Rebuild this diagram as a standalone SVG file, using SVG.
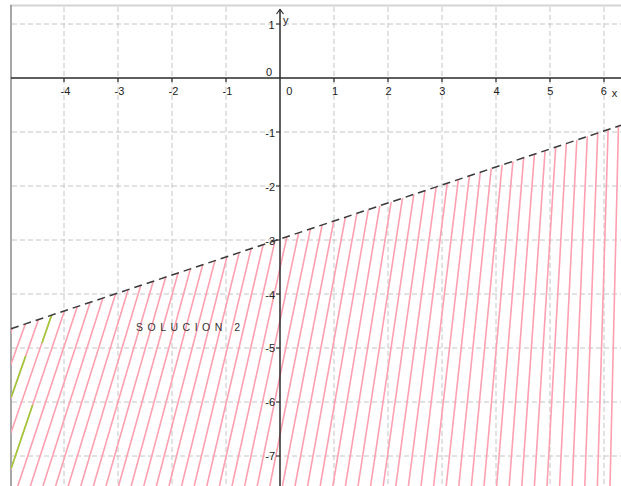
<svg xmlns="http://www.w3.org/2000/svg" width="621" height="486" viewBox="0 0 621 486">
<style>
.grid{stroke:#c4c4c4;stroke-width:1;stroke-dasharray:5,3;fill:none}
.axis{stroke:#2a2a2a;stroke-width:1.5;fill:none}
.tick{stroke:#2a2a2a;stroke-width:1.2}
.lbl{font-family:"Liberation Sans",Arial,sans-serif;font-size:11px;fill:#222}
.hatch{stroke:#ffa0b0;stroke-width:1.6;fill:none}
.green{stroke:#9acd32;stroke-width:1.6;fill:none}
.bound{stroke:#3a3a3a;stroke-width:1.5;stroke-dasharray:8,5;fill:none}
</style>
<defs>
<clipPath id="region"><polygon points="11,328.7 621,125.3 621,486 11,486"/></clipPath>
</defs>
<rect x="0" y="0" width="621" height="486" fill="#fff"/>
<g id="frame">
<line x1="10" y1="5.5" x2="621" y2="5.5" stroke="#d4d4d4" stroke-width="2"/>
<line x1="11" y1="5" x2="11" y2="486" stroke="#8a8a8a" stroke-width="1.5"/>
</g>
<g id="grid" class="grid">
<path d="M64 7V486M118 7V486M172 7V486M226 7V486M334 7V486M388 7V486M442 7V486M496 7V486M550 7V486M604 7V486"/>
<path d="M12 24H621M12 132H621M12 186H621M12 240H621M12 294H621M12 348H621M12 402H621M12 456H621"/>
</g>
<g id="hatching" clip-path="url(#region)">
<path class="hatch" d="M618.6 120L610 486M608.4 120L597.4 486M598.2 120L584.8 486M588 120L572.2 486M577.8 120L559.6 486M567.6 120L547 486M557.4 120L534.4 486M547.2 120L521.8 486M537 120L509.2 486M526.8 120L496.6 486M516.6 120L484 486M506.4 120L471.4 486M496.2 120L458.8 486M486 120L446.2 486M475.8 120L433.6 486M465.6 120L421 486M455.4 120L408.4 486M445.2 120L395.8 486M435 120L383.2 486M424.8 120L370.6 486M414.6 120L358 486M404.4 120L345.4 486M394.2 120L332.8 486M384 120L320.2 486M373.8 120L307.6 486M363.6 120L295 486M353.4 120L282.4 486M343.2 120L269.8 486M333 120L257.2 486M322.8 120L244.6 486M312.6 120L232 486M302.4 120L219.4 486M292.2 120L206.8 486M282 120L194.2 486M271.8 120L181.6 486M261.6 120L169 486M251.4 120L156.4 486M241.2 120L143.8 486M231 120L131.2 486M220.8 120L118.6 486M210.6 120L106 486M200.4 120L93.4 486M190.2 120L80.8 486M180 120L68.2 486M169.8 120L55.6 486M159.6 120L43 486M149.4 120L30.4 486M139.2 120L17.8 486M129 120L5.2 486M118.8 120L-7.4 486M108.6 120L-20 486M98.4 120L-32.6 486M88.2 120L-45.2 486"/>
<path class="green" d="M11.3 468L32.6 405M11.3 397L25.7 356M51.5 315.5L42 343"/>
</g>
<g id="boundary">
<line class="bound" x1="11" y1="328.7" x2="621" y2="125.3"/>
</g>
<g id="axes">
<line class="axis" x1="11" y1="78" x2="621" y2="78"/>
<line class="axis" x1="280" y1="9" x2="280" y2="486"/>
<path d="M276.5 14L280 9.5L283.5 14" stroke="#2a2a2a" stroke-width="1.2" fill="none"/>
<path class="tick" d="M64 78V82M118 78V82M172 78V82M226 78V82M334 78V82M388 78V82M442 78V82M496 78V82M550 78V82M604 78V82"/>
<path class="tick" d="M276 24H280M276 132H280M276 186H280M276 240H280M276 294H280M276 348H280M276 402H280M276 456H280"/>
</g>
<g id="labels" class="lbl">
<g text-anchor="middle">
<text x="65.5" y="95">-4</text>
<text x="119.5" y="95">-3</text>
<text x="173.5" y="95">-2</text>
<text x="227.5" y="95">-1</text>
<text x="289.3" y="95">0</text>
<text x="335" y="95">1</text>
<text x="388.5" y="95">2</text>
<text x="442.3" y="95">3</text>
<text x="496.5" y="95">4</text>
<text x="550.3" y="95">5</text>
<text x="603.7" y="95">6</text>
<text x="614.5" y="97">x</text>
</g>
<g text-anchor="end">
<text x="274.5" y="29">1</text>
<text x="272" y="75.5">0</text>
<text x="275" y="137">-1</text>
<text x="275" y="191">-2</text>
<text x="275" y="244.5">-3</text>
<text x="275" y="298.5">-4</text>
<text x="275" y="352">-5</text>
<text x="275" y="406">-6</text>
<text x="275" y="459.5">-7</text>
</g>
<text x="283" y="24">y</text>
</g>
<g id="solution-label">
<text x="136" y="331" style="font-family:'Liberation Sans',Arial,sans-serif;font-size:10.5px;letter-spacing:4.5px;fill:#333">SOLUCION 2</text>
</g>
</svg>
